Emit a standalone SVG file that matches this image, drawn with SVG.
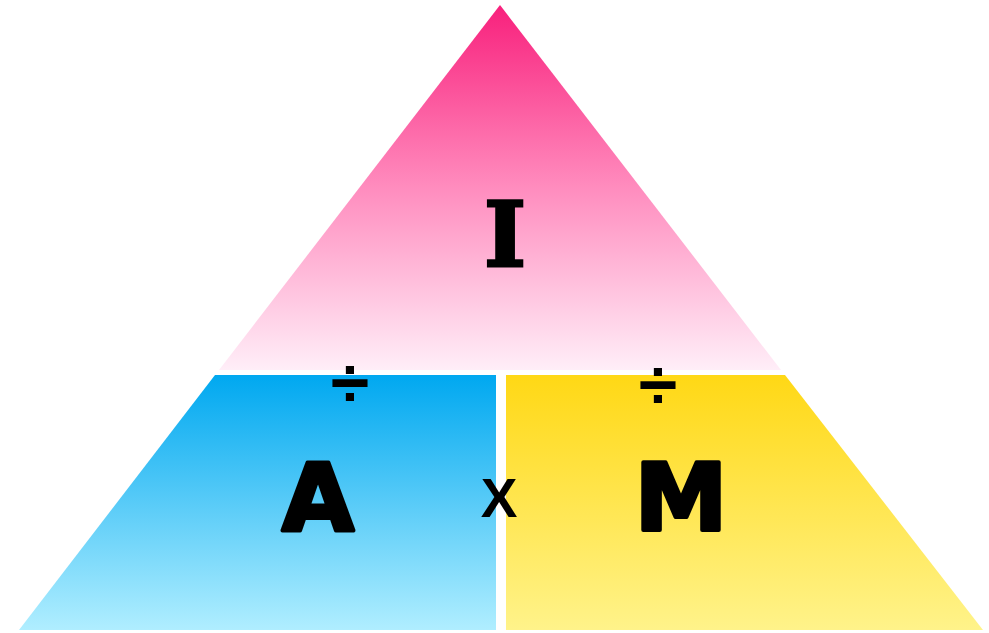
<svg xmlns="http://www.w3.org/2000/svg" width="989" height="633" viewBox="0 0 989 633">
<defs>
<linearGradient id="gPink" x1="0" y1="0" x2="0" y2="1">
<stop offset="0" stop-color="#f8207c"/>
<stop offset="0.5" stop-color="#ff8cbe"/>
<stop offset="1" stop-color="#ffeef8"/>
</linearGradient>
<linearGradient id="gCyan" x1="0" y1="0" x2="0" y2="1">
<stop offset="0" stop-color="#00a8f0"/>
<stop offset="1" stop-color="#b0eeff"/>
</linearGradient>
<linearGradient id="gYellow" x1="0" y1="0" x2="0" y2="1">
<stop offset="0" stop-color="#ffd815"/>
<stop offset="1" stop-color="#fff38a"/>
</linearGradient>
</defs>
<style>
.big{font-family:"DejaVu Sans","Liberation Sans",sans-serif;font-weight:bold;font-size:93px;fill:#000;stroke:#000;stroke-width:4;stroke-linejoin:round;text-anchor:middle}
.ser{font-family:"DejaVu Serif","Liberation Serif",serif;font-weight:bold;font-size:89px;fill:#000;stroke:#000;stroke-width:3;text-anchor:middle}
.op{font-family:"Liberation Sans",Arial,sans-serif;font-weight:bold;fill:#000;text-anchor:middle}
</style>
<rect width="989" height="633" fill="#fff"/>
<g id="node-I">
<polygon points="500,5 219,370 781,370" fill="url(#gPink)"/>
<text class="ser" x="505" y="266">I</text>
</g>
<g id="node-A">
<polygon points="215,375 496,375 496,630 19,630" fill="url(#gCyan)"/>
<text class="big" x="318" y="530">A</text>
</g>
<g id="node-M">
<polygon points="506,375 785,375 983,630 506,630" fill="url(#gYellow)"/>
<text class="big" x="681" y="530">M</text>
</g>
<g id="connectors">
<text class="op" x="350" y="407" font-size="70">÷</text>
<text class="op" x="658" y="409" font-size="70">÷</text>
<text class="op" x="499" y="517" font-size="55">X</text>
</g>
</svg>
